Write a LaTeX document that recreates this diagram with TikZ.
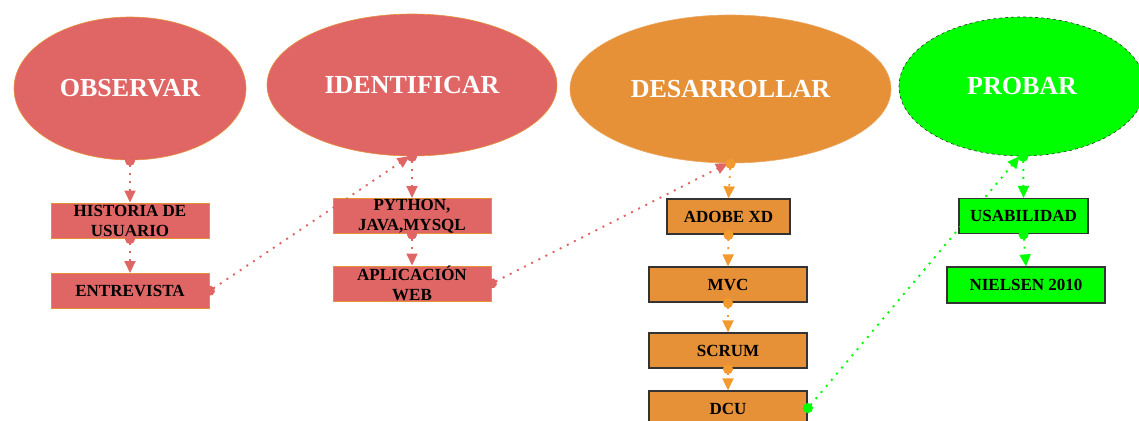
\documentclass[tikz,border=0pt]{standalone}
\usepackage{fontspec}
\setmainfont{Liberation Serif}
\usetikzlibrary{shapes.geometric,arrows.meta}
\definecolor{cred}{HTML}{E06666}
\definecolor{corange}{HTML}{E69138}
\definecolor{carrow}{HTML}{F29A2E}
\definecolor{cgreen}{HTML}{00FF00}
\definecolor{cdark}{HTML}{333333}
\tikzset{
  ell/.style={ellipse, inner sep=0pt, text=white, font=\bfseries\fontsize{26}{28}\selectfont},
  boxnode/.style={rectangle, minimum height=35pt, inner sep=0pt, align=center, text=black,
    font=\bfseries\fontsize{17}{20}\selectfont},
  con/.style={line width=1.9pt, dash pattern=on 2pt off 6pt, shorten <=-4.5pt,
    {Circle[length=10pt]}-{Triangle[length=12pt,width=11pt]}}
}
\begin{document}
\begin{tikzpicture}[x=1pt,y=-1pt]
\useasboundingbox (0,0) rectangle (1139,420);
\clip (0,0) rectangle (1139,420);
% ellipses
\node[ell, fill=cred, draw=corange, line width=0.6pt, minimum width=232pt, minimum height=143pt] (obs) at (130,88.5) {\raisebox{-1pt}{OBSERVAR}};
\node[ell, fill=cred, draw=corange, line width=0.6pt, minimum width=290pt, minimum height=142pt] (ide) at (412,85) {IDENTIFICAR};
\node[ell, fill=corange, draw=corange!80!white, line width=0.6pt, minimum width=321pt, minimum height=148pt] (des) at (730.5,89) {DESARROLLAR};
\node[ell, fill=cgreen, draw=cdark, dashed, line width=0.6pt, minimum width=246pt, minimum height=139pt] (pro) at (1022,86.5) {PROBAR};
% boxes
\node[boxnode, fill=cred, draw=corange, line width=1pt, minimum width=158pt] (his) at (130,220.5) {HISTORIA DE\\USUARIO};
\node[boxnode, fill=cred, draw=corange, line width=1pt, minimum width=158pt] (ent) at (130,291) {ENTREVISTA};
\node[boxnode, fill=cred, draw=corange, line width=1pt, minimum width=158pt] (pyt) at (412,216) {PYTHON,\\JAVA,MYSQL};
\node[boxnode, fill=cred, draw=corange, line width=1pt, minimum width=158pt] (apl) at (412,283.5) {APLICACIÓN\\WEB};
\node[boxnode, fill=corange, draw=cdark, line width=1.2pt, minimum width=123pt] (ado) at (728.5,216.5) {ADOBE XD};
\node[boxnode, fill=corange, draw=cdark, line width=1.2pt, minimum width=158pt] (mvc) at (728,284.5) {MVC};
\node[boxnode, fill=corange, draw=cdark, line width=1.2pt, minimum width=158pt] (scr) at (728,350.5) {SCRUM};
\node[boxnode, fill=corange, draw=cdark, line width=1.2pt, minimum width=158pt] (dcu) at (728,408.5) {DCU};
\node[boxnode, fill=cgreen, draw=cdark, line width=1.2pt, minimum width=129pt] (usa) at (1023.5,216) {USABILIDAD};
\node[boxnode, fill=cgreen, draw=cdark, line width=1.2pt, minimum width=158pt, minimum height=36pt] (nie) at (1026,285) {NIELSEN 2010};
% connectors
\draw[con, cred] (obs.south) -- (his.north);
\draw[con, cred] (his.south) -- (ent.north);
\draw[con, cred] (ent.east) -- (ide.268);
\draw[con, cred] (ide.south) -- (pyt.north);
\draw[con, cred] (pyt.south) -- (apl.north);
\draw[con, cred] (apl.east) -- (des.268);
\draw[con, carrow] (des.south) -- (ado.north);
\draw[con, carrow] (ado.south) -- (mvc.north);
\draw[con, carrow] (mvc.south) -- (scr.north);
\draw[con, carrow] (scr.south) -- (dcu.north);
\draw[con, cgreen] (dcu.east) -- (pro.268);
\draw[con, cgreen] (pro.271) -- (usa.north);
\draw[con, cgreen] (usa.south) -- (nie.north);
\end{tikzpicture}
\end{document}
